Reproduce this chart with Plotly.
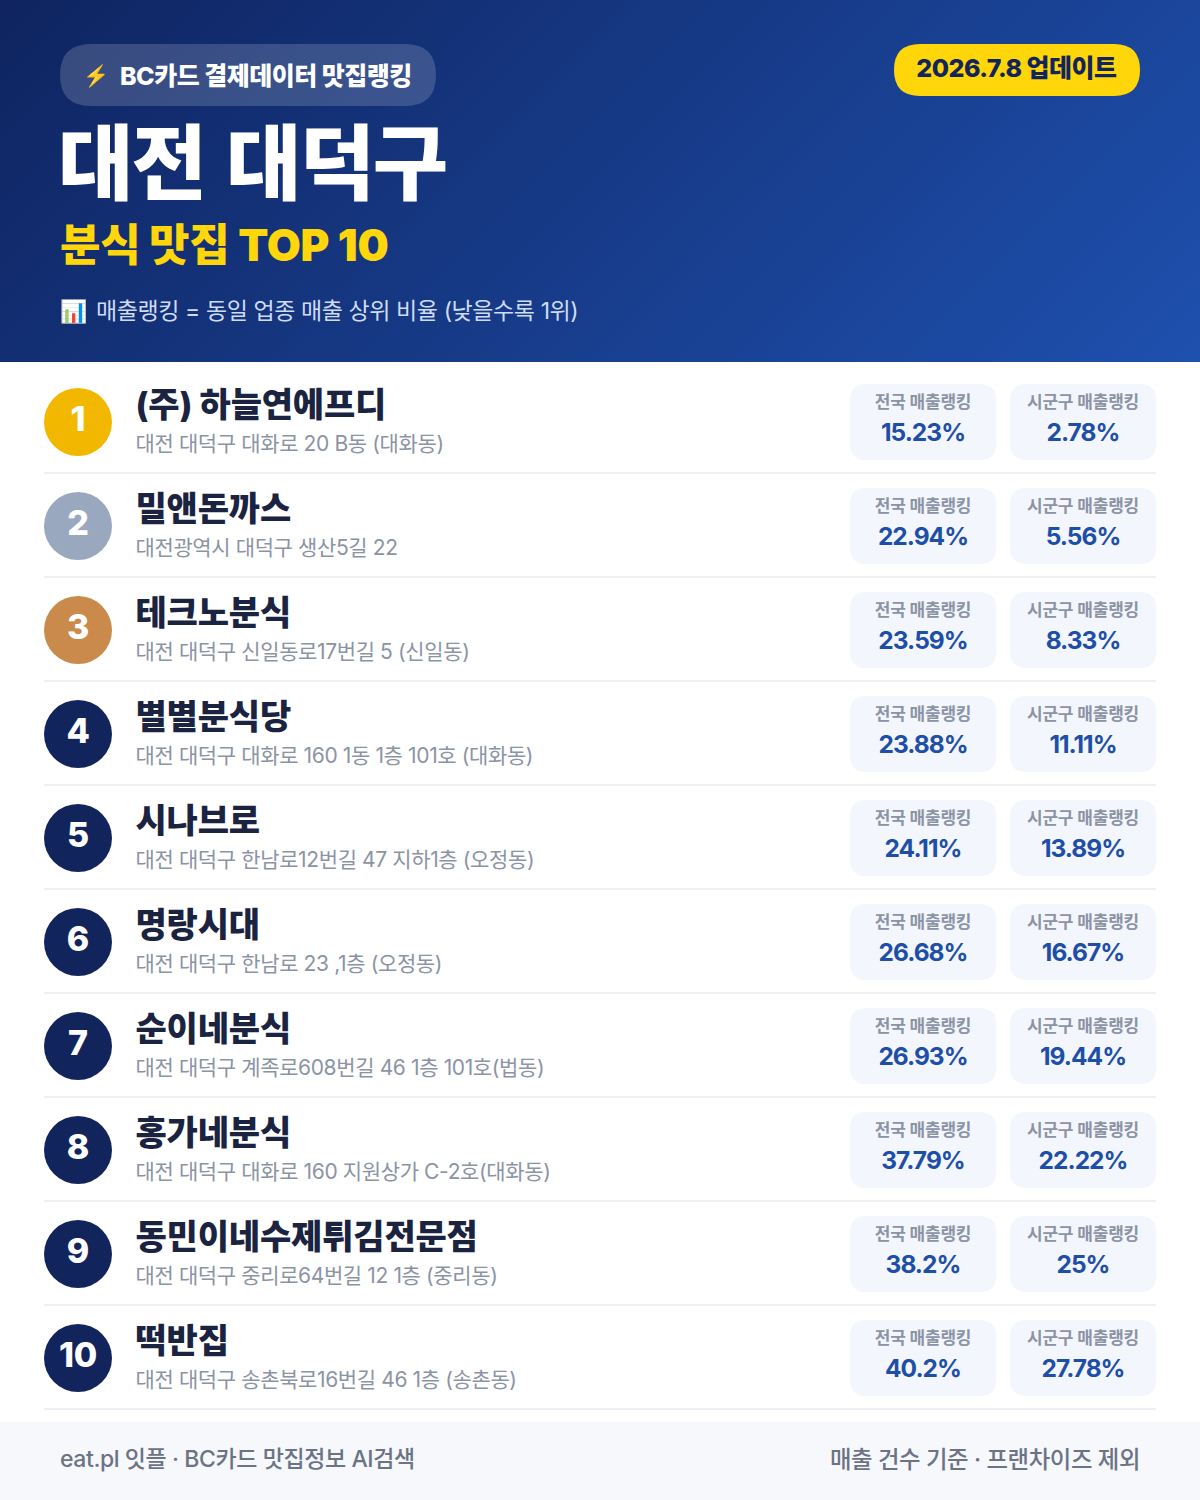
import json
import plotly.graph_objects as go

# data
ranks = ["1", "2", "3", "4", "5", "6", "7", "8", "9", "10"]
names = ["(주) 하늘연에프디", "밀앤돈까스", "테크노분식", "별별분식당", "시나브로",
         "명랑시대", "순이네분식", "홍가네분식", "동민이네수제튀김전문점", "떡반집"]
addresses = ["대전 대덕구 대화로 20 B동 (대화동)",
             "대전광역시 대덕구 생산5길 22",
             "대전 대덕구 신일동로17번길 5 (신일동)",
             "대전 대덕구 대화로 160 1동 1층 101호 (대화동)",
             "대전 대덕구 한남로12번길 47 지하1층 (오정동)",
             "대전 대덕구 한남로 23 ,1층 (오정동)",
             "대전 대덕구 계족로608번길 46 1층 101호(법동)",
             "대전 대덕구 대화로 160 지원상가 C-2호(대화동)",
             "대전 대덕구 중리로64번길 12 1층 (중리동)",
             "대전 대덕구 송촌북로16번길 46 1층 (송촌동)"]
national = ["15.23%", "22.94%", "23.59%", "23.88%", "24.11%",
            "26.68%", "26.93%", "37.79%", "38.2%", "40.2%"]
local = ["2.78%", "5.56%", "8.33%", "11.11%", "13.89%",
         "16.67%", "19.44%", "22.22%", "25%", "27.78%"]
rank_colors = ["#f2b800", "#9aa8bf", "#c98a4b"] + ["#12245c"] * 7

FONT = "Inter, Noto Sans CJK KR"
ROW_H = 104
row_y = [422 + ROW_H * i for i in range(len(ranks))]

# letter spacing per font size, in em
SPACING = {"82": -0.025, "44": -0.005, "34": -0.005, "25": -0.02, "24.5": -0.04,
           "23": -0.018, "23.4": -0.018, "21": -0.018, "17": -0.01}


def rounded(x0, y0, x1, y1, r):
    return (f"M{x0+r},{y0} L{x1-r},{y0} Q{x1},{y0} {x1},{y0+r} L{x1},{y1-r} Q{x1},{y1} {x1-r},{y1} "
            f"L{x0+r},{y1} Q{x0},{y1} {x0},{y1-r} L{x0},{y0+r} Q{x0},{y0} {x0+r},{y0} Z")


def text_trace(x, y, text, size, color, weight, pos="middle right"):
    return go.Scatter(x=x, y=y, text=text, mode="text", textposition=pos, hoverinfo="skip",
                      textfont=dict(family=FONT, size=size, color=color, weight=weight),
                      showlegend=False)


fig = go.Figure()

# rank circles
fig.add_trace(go.Scatter(x=[78] * len(ranks), y=row_y, mode="markers", hoverinfo="skip",
                         marker=dict(size=68, color=rank_colors, line_width=0), showlegend=False))
fig.add_trace(text_trace([78] * len(ranks), row_y, ranks, 34, "white", 800, "middle center"))

# names and addresses
fig.add_trace(text_trace([135.5] * len(ranks), [y - 14 for y in row_y], names, 34, "#1a2340", 800))
fig.add_trace(text_trace([135.5] * len(ranks), [y + 24 for y in row_y], addresses, 21, "#8b93a5", 400))

# stat boxes
for cx, vals, lab in [(923, national, "전국 매출랭킹"), (1083, local, "시군구 매출랭킹")]:
    fig.add_trace(text_trace([cx] * len(ranks), [y - 18 for y in row_y], [lab] * len(ranks), 17, "#8b93a5", 700, "middle center"))
    fig.add_trace(text_trace([cx] * len(ranks), [y + 13 for y in row_y], vals, 24.5, "#1e4fa8", 700, "middle center"))

shapes = []
shapes.append(dict(type="path", path=rounded(60, 44, 436, 106, 31), fillcolor="rgba(255,255,255,0.17)", line_width=0, layer="above"))
shapes.append(dict(type="path", path=rounded(894, 44, 1140, 96, 26), fillcolor="#ffd60a", line_width=0, layer="above"))
shapes.append(dict(type="rect", x0=0, x1=1200, y0=1422, y1=1500, fillcolor="#f6f8fc", line_width=0, layer="below"))
for y in row_y:
    shapes.append(dict(type="path", path=rounded(850, y - 38, 996, y + 38, 16), fillcolor="#f4f6fd", line_width=0, layer="below"))
    shapes.append(dict(type="path", path=rounded(1010, y - 38, 1156, y + 38, 16), fillcolor="#f4f6fd", line_width=0, layer="below"))
    shapes.append(dict(type="rect", x0=44, x1=1156, y0=y + 50, y1=y + 52, fillcolor="#eef0f3", line_width=0, layer="below"))

# header gradient
grad = ("data:image/svg+xml;utf8,<svg xmlns='http://www.w3.org/2000/svg' width='1200' height='362'>"
        "<defs><linearGradient id='g' gradientUnits='userSpaceOnUse' x1='209.5' y1='-209.5' x2='990.5' y2='571.5'>"
        "<stop offset='0' stop-color='%230f2460'/><stop offset='1' stop-color='%231e50ae'/>"
        "</linearGradient></defs><rect width='1200' height='362' fill='url(%23g)'/></svg>")


def note(x, y, text, size, color, weight, anchor="left"):
    return dict(x=x, y=y, xref="x", yref="y", text=text, showarrow=False, xanchor=anchor, yanchor="middle",
                align=anchor, font=dict(family=FONT, size=size, color=color, weight=weight))


annotations = [
    note(81, 76, "⚡", 21, "#ffc21a", 400),
    note(118, 76, "BC카드 결제데이터 맛집랭킹", 25, "white", 800),
    note(1016, 68, "2026.7.8 업데이트", 25, "#12245c", 800, "center"),
    note(56, 163, "대전 대덕구", 82, "white", 900),
    note(58, 245, "분식 맛집 TOP 10", 44, "#ffd60a", 900),
    note(58, 311, "📊", 22, "#cfdcf5", 400),
    note(94, 311, "매출랭킹 = 동일 업종 매출 상위 비율 (낮을수록 1위)", 23, "#cfdcf5", 400),
    note(58, 1459, "eat.pl 잇플 · BC카드 맛집정보 AI검색", 23, "#6b7385", 500),
    note(1142, 1459, "매출 건수 기준 · 프랜차이즈 제외", 23.4, "#6b7385", 500, "right"),
]

fig.update_layout(
    width=1200, height=1500, margin=dict(l=0, r=0, t=0, b=0),
    paper_bgcolor="white", plot_bgcolor="white", showlegend=False,
    xaxis=dict(range=[0, 1200], visible=False, fixedrange=True),
    yaxis=dict(range=[1500, 0], visible=False, fixedrange=True),
    shapes=shapes, annotations=annotations,
    images=[dict(source=grad, xref="x", yref="y", x=0, y=0, sizex=1200, sizey=362,
                 xanchor="left", yanchor="top", sizing="stretch", layer="below")],
)

# plotly has no letter spacing option
spacing_js = """
document.body.style.margin='0';
var spacing = %s;
document.querySelectorAll('.annotation-text, .textpoint text').forEach(function(t){
    var size = parseFloat(t.style.fontSize);
    var em = spacing[String(size)];
    if (em) t.style.letterSpacing = em + 'em';
    if (size === 82) t.style.wordSpacing = '7px';
});
""" % json.dumps(SPACING)
fig.write_html("out.html", config=dict(displayModeBar=False), post_script=spacing_js)
